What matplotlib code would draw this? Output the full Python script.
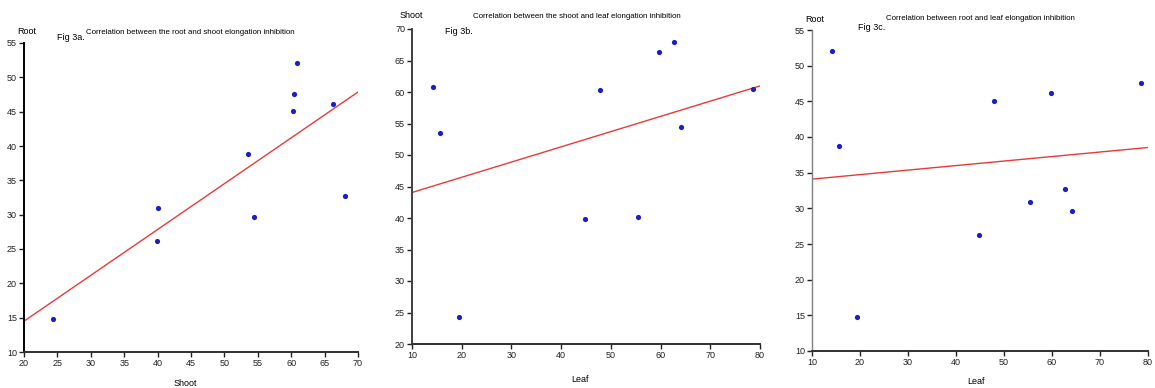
import numpy as np
import matplotlib
matplotlib.use("Agg")
import matplotlib.pyplot as plt
from matplotlib import font_manager

# ---- data (elongation inhibition, %) ----
leaf = [14.2, 15.7, 19.4, 44.8, 47.9, 55.5, 59.7, 62.7, 64.2, 78.5]
shoot = [60.8, 53.5, 24.3, 39.9, 60.3, 40.1, 66.3, 68.0, 54.5, 60.4]
root = [52.1, 38.8, 14.8, 26.2, 45.1, 30.9, 46.1, 32.7, 29.6, 47.6]

titles = ["Correlation between the root and shoot elongation inhibition",
          "Correlation between the shoot and leaf elongation inhibition",
          "Correlation between root and leaf elongation inhibition"]
fig_labels = ["Fig 3a.", "Fig 3b.", "Fig 3c."]
x_labels = ["Shoot", "Leaf", "Leaf"]
y_labels = ["Root", "Shoot", "Root"]
x_ticks = [list(range(20, 71, 5)), list(range(10, 81, 10)), list(range(10, 81, 10))]
y_ticks = [list(range(10, 56, 5)), list(range(20, 71, 5)), list(range(10, 56, 5))]

names = {f.name for f in font_manager.fontManager.ttflist}
fam = "Liberation Sans Narrow" if "Liberation Sans Narrow" in names else "Liberation Sans"
plt.rcParams['font.family'] = [fam, 'DejaVu Sans']

W, H = 1155, 388
fig = plt.figure(figsize=(W / 100, H / 100), dpi=100)
fig.patch.set_facecolor("white")

def box(l, r, t, b):
    return [l / W, 1 - b / H, (r - l) / W, (b - t) / H]

boxes = [box(24, 358, 43, 352), box(412, 760, 29, 344), box(812, 1148, 30, 351)]
xs = [shoot, leaf, leaf]
ys = [root, shoot, root]

# text positions in pixels (x, y)
ylab_pos = [(17, 31), (400, 16), (805, 19)]
title_pos = [(86, 32), (473, 17), (886, 19)]
figlab_pos = [(57, 37), (445, 32), (858, 27)]
xlab_pos = [(185, 383), (580, 379), (976, 381)]
spine_cols = ["black", "#404040", "#808080"]

for i in range(3):
    ax = fig.add_axes(boxes[i])
    ax.set_facecolor("white")
    x = np.array(xs[i]); y = np.array(ys[i])
    ax.scatter(x, y, s=14, color="#1c1cc8", zorder=3, linewidths=0)
    k, c = np.polyfit(x, y, 1)
    xl = np.array([x_ticks[i][0], x_ticks[i][-1]])
    ax.plot(xl, k * xl + c, color="#e83a3a", lw=1.0, zorder=2)
    ax.set_xlim(x_ticks[i][0], x_ticks[i][-1])
    ax.set_ylim(y_ticks[i][0], y_ticks[i][-1])
    ax.set_xticks(x_ticks[i])
    ax.set_yticks(y_ticks[i])
    for s in ("top", "right"):
        ax.spines[s].set_visible(False)
    ax.spines["left"].set_color(spine_cols[i])
    ax.spines["left"].set_linewidth(1.4 if i < 2 else 1.0)
    ax.spines["bottom"].set_color("#303030")
    ax.spines["bottom"].set_linewidth(1.4)
    ax.tick_params(axis="both", length=3.5, width=1.0, labelsize=6.5, pad=1.5, colors="#222222")
    fig.text(ylab_pos[i][0] / W, 1 - ylab_pos[i][1] / H, y_labels[i], fontsize=6.5, va="center", ha="left")
    fig.text(title_pos[i][0] / W, 1 - title_pos[i][1] / H, titles[i], fontsize=5.7, va="center", ha="left")
    fig.text(figlab_pos[i][0] / W, 1 - figlab_pos[i][1] / H, fig_labels[i], fontsize=6.5, va="center", ha="left")
    fig.text(xlab_pos[i][0] / W, 1 - xlab_pos[i][1] / H, x_labels[i], fontsize=6.5, va="center", ha="center")

fig.savefig("out.png", dpi=100, facecolor="white")
